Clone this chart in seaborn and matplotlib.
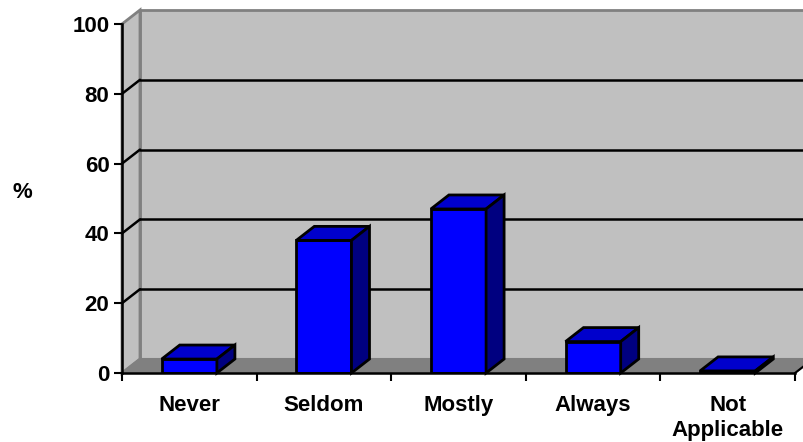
import matplotlib
matplotlib.use("Agg")
import matplotlib.pyplot as plt
import seaborn as sns
from matplotlib.patches import Polygon

categories = ["Never", "Seldom", "Mostly", "Always", "Not\nApplicable"]
values = [4, 38, 47, 9, 0.6]
yticks = [0, 20, 40, 60, 80, 100]

sns.set_theme(style="white")
plt.rcParams['font.family'] = ['Liberation Sans', 'DejaVu Sans']
plt.rcParams['font.weight'] = 'bold'

W, H = 804, 442
fig = plt.figure(figsize=(W / 100, H / 100), dpi=100)
ax = fig.add_axes([122 / W, (H - 373) / H, (795 - 122) / W, (373 - 24) / H])

xmin, xmax = -0.5, 4.5
ymin, ymax = 0, 100
ax.set_xlim(xmin, xmax)
ax.set_ylim(ymin, ymax)

# depth offsets in data units (18 px right, 14 px up)
ddx = 18 / ((795 - 122) / 5)
ddy = 14 / ((373 - 24) / 100)

wall = "#C0C0C0"
floor = "#808080"
edge_gray = "#808080"

# back wall
ax.add_patch(Polygon([(xmin + ddx, ddy), (xmax + ddx, ddy), (xmax + ddx, ymax + ddy), (xmin + ddx, ymax + ddy)],
                     closed=True, facecolor=wall, edgecolor=edge_gray, lw=2, clip_on=False, zorder=0))
# side wall
ax.add_patch(Polygon([(xmin, 0), (xmin, ymax), (xmin + ddx, ymax + ddy), (xmin + ddx, ddy)],
                     closed=True, facecolor=wall, edgecolor=edge_gray, lw=2, clip_on=False, zorder=0.1))
# floor
ax.add_patch(Polygon([(xmin, 0), (xmax, 0), (xmax + ddx, ddy), (xmin + ddx, ddy)],
                     closed=True, facecolor=floor, edgecolor=edge_gray, lw=1.5, clip_on=False, zorder=0.2))
# floor right edge (black)
ax.plot([xmax, xmax + ddx], [0, ddy], color="black", lw=1.5, clip_on=False, zorder=0.3)

# gridlines (the 100 line is the gray wall edge)
for v in yticks[1:-1]:
    ax.plot([xmin + ddx, xmax + ddx], [v + ddy, v + ddy], color="black", lw=1.8, clip_on=False, zorder=0.5)
    ax.plot([xmin, xmin + ddx], [v, v + ddy], color="black", lw=1.8, clip_on=False, zorder=0.5)

# bars (front faces)
sns.barplot(x=list(range(len(categories))), y=values, width=0.41, color="#0000FF", saturation=1,
            edgecolor="black", linewidth=2, ax=ax, zorder=3, native_scale=False)
ax.set_xlim(xmin, xmax)
ax.set_ylim(ymin, ymax)

for p in list(ax.patches):
    if p.get_facecolor()[:3] != (0.0, 0.0, 1.0):
        continue
    x0 = p.get_x()
    x1 = x0 + p.get_width()
    h = p.get_height()
    top = Polygon([(x0, h), (x1, h), (x1 + ddx, h + ddy), (x0 + ddx, h + ddy)], closed=True,
                  facecolor="#0000CC", edgecolor="black", lw=2, zorder=3, clip_on=False, joinstyle="miter")
    side = Polygon([(x1, 0), (x1 + ddx, ddy), (x1 + ddx, h + ddy), (x1, h)], closed=True,
                   facecolor="#000080", edgecolor="black", lw=2, zorder=3, clip_on=False, joinstyle="miter")
    ax.add_patch(top)
    ax.add_patch(side)

for s in ["top", "right"]:
    ax.spines[s].set_visible(False)
for s in ["left", "bottom"]:
    ax.spines[s].set_visible(True)
    ax.spines[s].set_color("black")
    ax.spines[s].set_linewidth(1.8)
    ax.spines[s].set_zorder(4)

ax.set_yticks(yticks)
ax.set_yticklabels([str(v) for v in yticks])
ax.set_xticks(range(len(categories)))
ax.set_xticklabels(categories, linespacing=1.25)
ax.set_xticks([i - 0.5 for i in range(len(categories) + 1)], minor=True)
ax.tick_params(axis="y", which="major", left=True, length=6, width=1.5, color="black", pad=3, labelsize=16)
ax.tick_params(axis="x", which="major", bottom=False, length=0, pad=16, labelsize=16)
ax.tick_params(axis="x", which="minor", bottom=True, length=6, width=1.5, color="black")
for t in ax.get_xticklabels() + ax.get_yticklabels():
    t.set_fontweight("bold")
    t.set_color("black")
ax.set_xlabel("")
ax.set_ylabel("")
ax.grid(False)
ax.set_facecolor("none")

fig.text(22 / W, 1 - 192 / H, "%", ha="center", va="center", fontsize=16, fontweight="bold", color="black")

fig.savefig("out.png", dpi=100)
